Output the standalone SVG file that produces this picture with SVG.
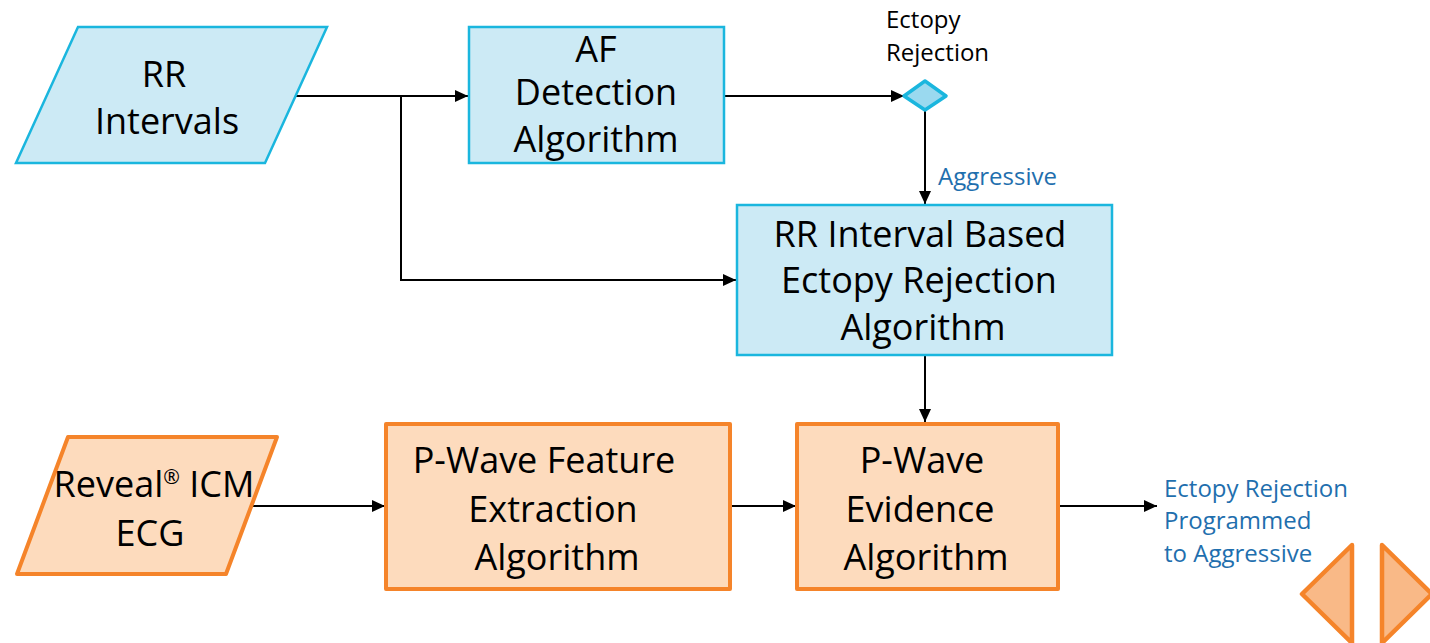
<svg xmlns="http://www.w3.org/2000/svg" width="1430" height="643" viewBox="0 0 1430 643">
<style>
.blue{fill:#cceaf5;stroke:#1ab6de;stroke-width:2.5}
.orange{fill:#fddbbd;stroke:#f5842a;stroke-width:4;stroke-linejoin:round}
.big{font-family:"Open Sans","Liberation Sans",sans-serif;font-size:36px;fill:#000;text-anchor:middle}
.small{font-family:"Open Sans","Liberation Sans",sans-serif;font-size:24px}
.lbl{fill:#1f6fae}
.edge{fill:none;stroke:#000;stroke-width:2}
</style>
<defs>
<marker id="arr" markerUnits="userSpaceOnUse" markerWidth="13" markerHeight="12" refX="13" refY="6" orient="auto">
<path d="M0,0 L13,6 L0,12 z" fill="#000"/>
</marker>
</defs>
<rect width="1430" height="643" fill="#fff"/>
<g id="connectors">
<path class="edge" d="M296,96 H468" marker-end="url(#arr)"/>
<path class="edge" d="M401,96 V280 H736" marker-end="url(#arr)"/>
<path class="edge" d="M724,96 H904" marker-end="url(#arr)"/>
<path class="edge" d="M925,110 V204" marker-end="url(#arr)"/>
<path class="edge" d="M925,355 V422" marker-end="url(#arr)"/>
<path class="edge" d="M252,506 H385" marker-end="url(#arr)"/>
<path class="edge" d="M730,506 H796" marker-end="url(#arr)"/>
<path class="edge" d="M1058,506 H1157" marker-end="url(#arr)"/>
</g>
<g id="rr-intervals">
<polygon class="blue" points="78,27 327,27 265,163 16,163"/>
<text class="big"><tspan x="164" y="87">RR</tspan><tspan x="167" y="134">Intervals</tspan></text>
</g>
<g id="af-detection">
<rect class="blue" x="469" y="27" width="255" height="136"/>
<text class="big"><tspan x="596" y="62">AF</tspan><tspan x="596" y="105">Detection</tspan><tspan x="596" y="152">Algorithm</tspan></text>
</g>
<g id="ectopy-decision">
<polygon points="925,81 946,96 925,110 904,96" fill="#9ad9ef" stroke="#1ab6de" stroke-width="3.5" stroke-linejoin="round"/>
<text class="small" fill="#000"><tspan x="886" y="28">Ectopy</tspan><tspan x="886" y="61">Rejection</tspan></text>
</g>
<text id="aggressive-label" class="small lbl" x="938" y="185">Aggressive</text>
<g id="rr-ectopy">
<rect class="blue" x="737" y="205" width="375" height="150"/>
<text class="big"><tspan x="920" y="247">RR Interval Based</tspan><tspan x="919" y="293">Ectopy Rejection</tspan><tspan x="923" y="340">Algorithm</tspan></text>
</g>
<g id="reveal-ecg">
<polygon class="orange" points="68,437 277,437 226,574 17,574"/>
<text class="big" font-size="35"><tspan x="154" y="497">Reveal<tspan font-size="20" dy="-13">®</tspan><tspan dy="13"> ICM</tspan></tspan><tspan x="150" y="546">ECG</tspan></text>
</g>
<g id="pwave-feature">
<rect class="orange" x="386" y="424" width="344" height="165"/>
<text class="big"><tspan x="544" y="473">P-Wave Feature</tspan><tspan x="553" y="522">Extraction</tspan><tspan x="557" y="570">Algorithm</tspan></text>
</g>
<g id="pwave-evidence">
<rect class="orange" x="797" y="424" width="261" height="165"/>
<text class="big"><tspan x="922" y="473">P-Wave</tspan><tspan x="920" y="522">Evidence</tspan><tspan x="926" y="570">Algorithm</tspan></text>
</g>
<g id="result-label">
<text class="small lbl"><tspan x="1164" y="497">Ectopy Rejection</tspan><tspan x="1164" y="529">Programmed</tspan><tspan x="1164" y="562">to Aggressive</tspan></text>
</g>
<g id="nav-buttons">
<polygon points="1352,545 1302,594 1352,643" fill="#f9b987" stroke="#f5842a" stroke-width="4.5" stroke-linejoin="round"/>
<polygon points="1382,545 1432,594 1382,643" fill="#f9b987" stroke="#f5842a" stroke-width="4.5" stroke-linejoin="round"/>
</g>
</svg>
